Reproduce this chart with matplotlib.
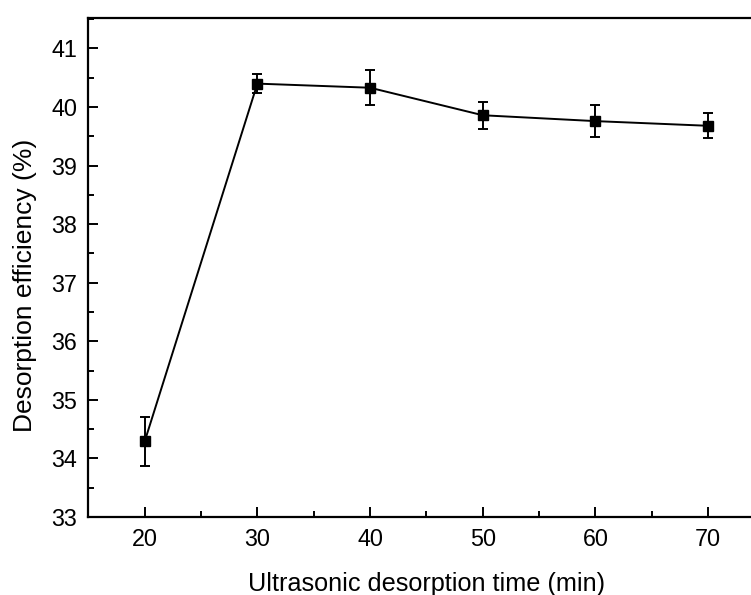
import matplotlib
matplotlib.use("Agg")
import matplotlib.pyplot as plt
from matplotlib.ticker import MultipleLocator

plt.rcParams['font.family'] = ['Liberation Sans', 'DejaVu Sans']

time_min = [20, 30, 40, 50, 60, 70]
efficiency = [34.29, 40.40, 40.33, 39.86, 39.76, 39.68]
error = [0.41, 0.16, 0.30, 0.23, 0.27, 0.21]

fig = plt.figure(figsize=(7.51, 5.95), dpi=100)
ax = fig.add_axes([0.1176, 0.131, 0.9004, 0.8387])

ax.errorbar(time_min, efficiency, yerr=error, color='black', lw=1.4,
            marker='s', markersize=7.3, capsize=3.8, elinewidth=1.4, capthick=1.4)

ax.set_xlim(15, 75)
ax.set_ylim(33, 41.52)
ax.xaxis.set_major_locator(MultipleLocator(10))
ax.xaxis.set_minor_locator(MultipleLocator(5))
ax.yaxis.set_major_locator(MultipleLocator(1))
ax.yaxis.set_minor_locator(MultipleLocator(0.5))

ax.tick_params(which='both', direction='in', top=False, right=False, width=1.4, labelsize=16.8)
ax.tick_params(which='major', length=7.5, pad=8)
ax.tick_params(which='minor', length=4)
for s in ax.spines.values():
    s.set_linewidth(1.6)

ax.set_xlabel('Ultrasonic desorption time (min)', fontsize=18.2, labelpad=15)
ax.set_ylabel('Desorption efficiency (%)', fontsize=19)
ax.yaxis.set_label_coords(-0.076, 0.465)

fig.savefig('out.png', dpi=100)
